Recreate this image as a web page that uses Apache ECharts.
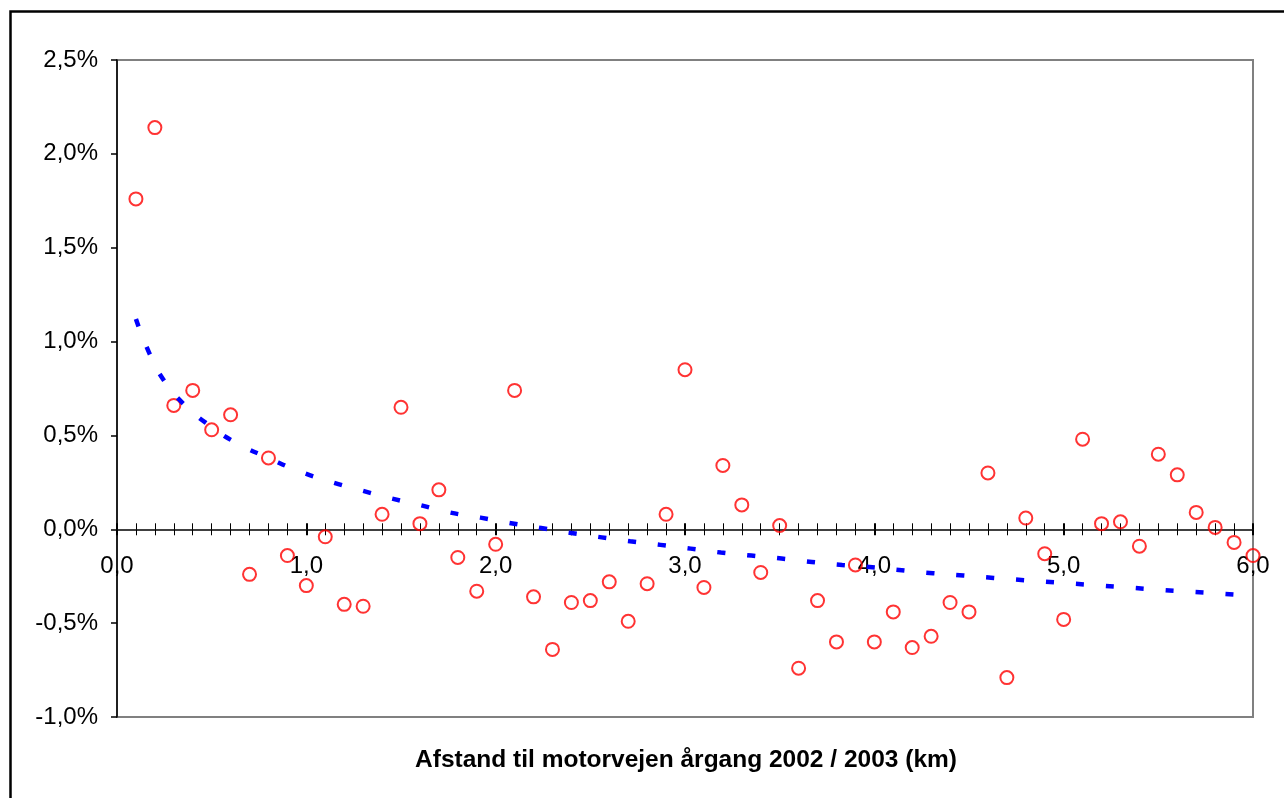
<!DOCTYPE html>
<html>
<head>
<meta charset="utf-8">
<script src="https://cdn.jsdelivr.net/npm/echarts@6/dist/echarts.min.js"></script>
<style>
html,body{margin:0;padding:0;background:#fff;}
#chart{width:1284px;height:798px;}
</style>
</head>
<body>
<div id="chart"></div>
<script>
// Distance to motorway (km)
var distances = [0.1,0.2,0.3,0.4,0.5,0.6,0.7,0.8,0.9,1.0,
                 1.1,1.2,1.3,1.4,1.5,1.6,1.7,1.8,1.9,2.0,
                 2.1,2.2,2.3,2.4,2.5,2.6,2.7,2.8,2.9,3.0,
                 3.1,3.2,3.3,3.4,3.5,3.6,3.7,3.8,3.9,4.0,
                 4.1,4.2,4.3,4.4,4.5,4.6,4.7,4.8,4.9,5.0,
                 5.1,5.2,5.3,5.4,5.5,5.6,5.7,5.8,5.9,6.0];
// Values in percent
var values = [1.76,2.14,0.66,0.74,0.53,0.61,-0.24,0.38,-0.14,-0.30,
              -0.04,-0.40,-0.41,0.08,0.65,0.03,0.21,-0.15,-0.33,-0.08,
              0.74,-0.36,-0.64,-0.39,-0.38,-0.28,-0.49,-0.29,0.08,0.85,
              -0.31,0.34,0.13,-0.23,0.02,-0.74,-0.38,-0.60,-0.19,-0.60,
              -0.44,-0.63,-0.57,-0.39,-0.44,0.30,-0.79,0.06,-0.13,-0.48,
              0.48,0.03,0.04,-0.09,0.40,0.29,0.09,0.01,-0.07,-0.14];
// Trend line
var trendX = [0.1,0.17,0.25,0.36,0.5,0.64,0.8,0.96,1.12,1.28,1.44,1.6,1.75,1.92,2.07,
              2.24,2.39,2.56,2.71,2.87,3.03,3.19,3.35,3.51,3.67,3.83,3.99,4.16,4.31,4.47,
              4.63,4.79,4.95,5.11,5.27,5.43,5.59,5.75,5.91,5.95];
var trendY = [1.12,0.94,0.79,0.66,0.545,0.455,0.38,0.31,0.256,0.21,0.167,0.129,0.091,0.062,0.034,
              0.007,-0.018,-0.043,-0.064,-0.083,-0.103,-0.124,-0.14,-0.156,-0.174,-0.19,-0.202,-0.22,-0.234,-0.246,
              -0.259,-0.271,-0.282,-0.294,-0.305,-0.317,-0.328,-0.337,-0.348,-0.35];
var yTicks = {min: -1, max: 2.5, step: 0.5};
var xTicks = {min: 0, max: 6, step: 1};
var axisTitle = 'Afstand til motorvejen årgang 2002 / 2003 (km)';

var FONT = '"Liberation Sans", Arial, sans-serif';
function fmt(v, pct) {
  var s = (Math.round(v * 10) / 10).toFixed(1).replace('.', ',');
  if (s === '-0,0') s = '0,0';
  return pct ? s + '%' : s;
}
var pts = distances.map(function (d, i) { return [d, values[i]]; });
var trend = trendX.map(function (d, i) { return [d, trendY[i]]; });

var GRID = {left: 117, right: 31, top: 60, bottom: 81};
var plotH = 798 - GRID.top - GRID.bottom;
// distance from the bottom edge of the plot up to the 0 line
var zeroOffset = plotH * (0 - yTicks.min) / (yTicks.max - yTicks.min);

function xAxisCfg(pos, showLabel) {
  var cfg = {
    type: 'value', position: pos,
    min: xTicks.min, max: xTicks.max, interval: xTicks.step,
    axisLine: {show: true, lineStyle: {color: '#404040', width: 2}},
    axisTick: {show: true, inside: false, length: 6, lineStyle: {color: '#000', width: 2}},
    minorTick: {show: true, splitNumber: 10, length: 6, lineStyle: {color: '#000', width: 1}},
    axisLabel: {show: showLabel, margin: 25, fontSize: 24, fontFamily: FONT, color: '#000',
      formatter: function (v) { return fmt(v, false); }},
    splitLine: {show: false}, minorSplitLine: {show: false}
  };
  if (pos === 'bottom') {
    cfg.axisLine.onZero = false;
    cfg.offset = -zeroOffset;
  } else {
    cfg.axisLine.onZero = true;
    cfg.axisLine.onZeroAxisIndex = 0;
  }
  return cfg;
}

var chart = echarts.init(document.getElementById('chart'), null, {renderer: 'canvas'});
chart.setOption({
  backgroundColor: '#fff',
  animation: false,
  grid: {left: GRID.left, right: GRID.right, top: GRID.top, bottom: GRID.bottom,
         containLabel: false, outerBoundsMode: 'none',
         show: true, borderColor: '#808080', borderWidth: 2, backgroundColor: '#fff'},
  xAxis: [xAxisCfg('bottom', true), xAxisCfg('top', false)],
  yAxis: {
    type: 'value', min: yTicks.min, max: yTicks.max, interval: yTicks.step,
    axisLine: {show: true, onZero: false, lineStyle: {color: '#000', width: 1.5}},
    axisTick: {show: true, inside: false, length: 6, lineStyle: {color: '#000', width: 1.5}},
    axisLabel: {margin: 19, fontSize: 24, fontFamily: FONT, color: '#000',
      formatter: function (v) { return fmt(v, true); }},
    splitLine: {show: false}
  },
  graphic: [
    {type: 'rect', shape: {x: 10.5, y: 11.5, width: 1400, height: 900},
     style: {fill: 'none', stroke: '#000', lineWidth: 2.5}, silent: true, z: 100},
    {type: 'text', x: 686, y: 760,
     style: {text: axisTitle, font: 'bold 24.5px ' + FONT, fill: '#000',
             textAlign: 'center', textVerticalAlign: 'middle'}}
  ],
  series: [
    {type: 'scatter', xAxisIndex: 0, data: pts, symbol: 'circle', symbolSize: 13,
     itemStyle: {color: 'rgba(0,0,0,0)', borderColor: '#ff0000', borderWidth: 2}, z: 3},
    {type: 'line', xAxisIndex: 0, data: trend, smooth: true, showSymbol: false, symbol: 'none',
     lineStyle: {color: '#0000ff', width: 4.5, type: [8, 22]}, z: 4}
  ]
});
</script>
</body>
</html>
